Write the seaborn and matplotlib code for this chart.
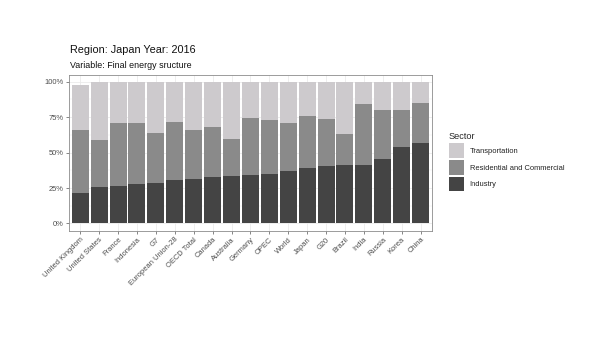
import matplotlib
matplotlib.use("Agg")
import matplotlib.pyplot as plt
from matplotlib.patches import Patch
from matplotlib.ticker import FixedLocator
import seaborn as sns
import pandas as pd
import numpy as np

countries = ["United Kingdom", "United States", "France", "Indonesia", "G7",
             "European Union-28", "OECD Total", "Canada", "Australia", "Germany",
             "OPEC", "World", "Japan", "G20", "Brazil", "India", "Russia", "Korea", "China"]
industry = [21.4, 25.9, 26.4, 27.8, 28.5, 30.8, 31.1, 32.7, 33.6, 34.1,
            35.1, 37.0, 39.3, 40.2, 40.9, 41.4, 45.2, 53.9, 56.9]
residential = [44.5, 32.7, 44.7, 43.3, 35.3, 41.0, 34.8, 35.1, 25.7, 40.3,
               37.7, 34.1, 36.2, 33.7, 21.9, 42.8, 34.6, 25.9, 27.8]
transportation = [32.0, 41.4, 28.9, 28.9, 36.2, 28.2, 34.1, 32.2, 40.7, 25.6,
                  27.2, 28.9, 24.5, 26.1, 37.2, 15.8, 20.2, 20.2, 15.3]
sectors = ["Transportation", "Residential and Commercial", "Industry"]
colors = {"Transportation": "#cdcacd", "Residential and Commercial": "#8a8a8a", "Industry": "#444444"}

sns.set_theme(style="white")
plt.rcParams['font.family'] = ['Liberation Sans', 'DejaVu Sans']

df = pd.DataFrame({"country": countries, "Industry": industry,
                   "Residential and Commercial": residential,
                   "Transportation": transportation})
df["cum_ind"] = df["Industry"]
df["cum_res"] = df["cum_ind"] + df["Residential and Commercial"]
df["cum_tra"] = df["cum_res"] + df["Transportation"]

fig = plt.figure(figsize=(6.1, 3.41), dpi=100)
ax = fig.add_axes([0.113, 0.324, 0.595, 0.457])

ax.set_axisbelow(True)
for col, key in [("cum_tra", "Transportation"), ("cum_res", "Residential and Commercial"),
                 ("cum_ind", "Industry")]:
    sns.barplot(data=df, x="country", y=col, color=colors[key], width=0.9,
                saturation=1, ax=ax, order=countries, linewidth=0, errorbar=None)

ax.set_xlim(-0.6, len(countries) - 0.4)
ax.set_ylim(-5, 105)
ax.set_yticks([0, 25, 50, 75, 100])
ax.set_yticklabels(["0%", "25%", "50%", "75%", "100%"])
ax.yaxis.set_minor_locator(FixedLocator([12.5, 37.5, 62.5, 87.5]))
ax.grid(True, which="major", axis="both", color="#ebebeb", linewidth=0.6)
ax.grid(True, which="minor", axis="y", color="#ebebeb", linewidth=0.3)
ax.set_xlabel("")
ax.set_ylabel("")
ax.set_xticks(range(len(countries)))
ax.set_xticklabels(countries, rotation=45, ha="right", rotation_mode="anchor")
ax.tick_params(axis="both", which="major", labelsize=5.4, labelcolor="#4d4d4d",
               color="#555555", length=2.5, width=0.5, pad=1.5, left=True, bottom=True)
ax.tick_params(axis="y", which="minor", length=0)
for s in ax.spines.values():
    s.set_color("#8c8c8c")
    s.set_linewidth(0.6)

fig.text(70 / 610, 1 - 50 / 341, "Region: Japan Year: 2016", fontsize=7.8,
         color="#111111", va="center", ha="left")
fig.text(70 / 610, 1 - 66 / 341, "Variable: Final energy sructure", fontsize=6.4,
         color="#111111", va="center", ha="left")

handles = [Patch(facecolor=colors[s], edgecolor="none", label=s) for s in sectors]
leg = fig.legend(handles=handles, title="Sector", loc="upper left",
                 bbox_to_anchor=(449 / 610, 1 - 132 / 341), frameon=False,
                 fontsize=5.4, title_fontsize=6.6, handlelength=2.0, handleheight=2.6,
                 labelspacing=0.3, handletextpad=0.75, borderpad=0, borderaxespad=0)
leg._legend_box.align = "left"
for t in leg.get_texts():
    t.set_color("#222222")

fig.savefig("out.png", dpi=100, facecolor="white")
